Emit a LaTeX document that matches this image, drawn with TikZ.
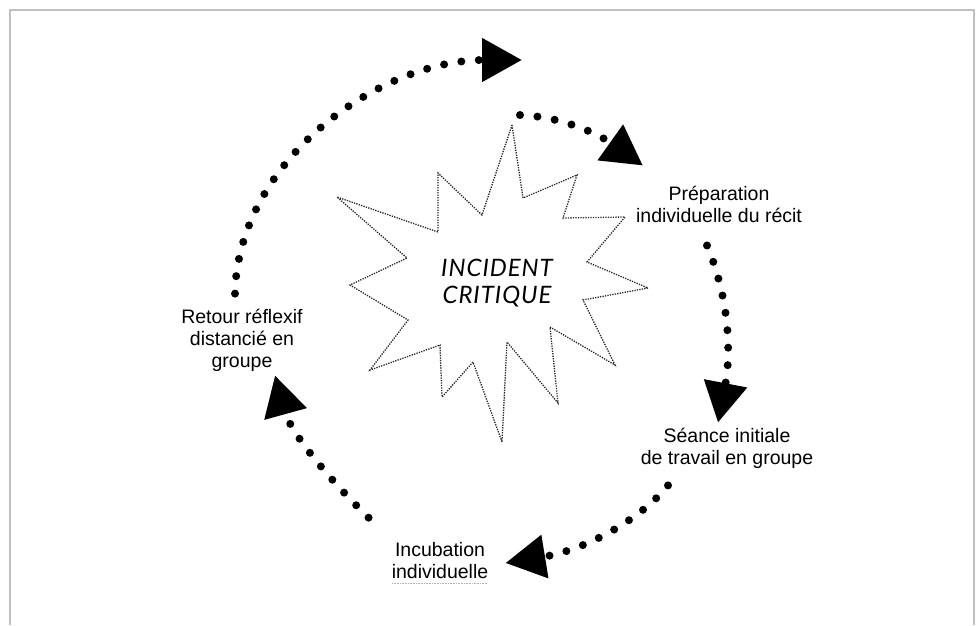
\documentclass[tikz,border=0pt]{standalone}
\usepackage{fontspec}
\setmainfont{Liberation Sans}
\newfontfamily\handfont{Lato}[LetterSpace=4]
\usetikzlibrary{arrows.meta}

\tikzset{
  dotarrow/.style={line width=8pt, line cap=round, dash pattern=on 0pt off 17.5pt,
    -{Triangle[length=40pt,width=42pt]}},
  burst/.style={black!85, line width=1.3pt, dash pattern=on 1.3pt off 1.2pt}
}

\begin{document}
\begin{tikzpicture}[x=1pt, y=-1pt]
      \useasboundingbox (0,0) rectangle (976,625);
      \draw[black!25, line width=2pt] (10,625) -- (10,10) -- (974,10) -- (974,625);
      \draw[burst] (512,125) coordinate (S) -- (523,198) -- (577,175) -- (563,218)
        -- (625,217) -- (587,262) -- (648,288) -- (583,300) -- (615,365)
        -- (550,327) -- (558,403) -- (507,342) -- (502,442) -- (473,362)
        -- (442,397) -- (440,345) -- (370,370) -- (408,320) -- (350,285)
        -- (407,258) -- (337,197) -- (438,232) -- (438,173) -- (482,215) -- cycle;
      \node (IC) [align=center, inner sep=0pt,
        font=\handfont\itshape\fontsize{24}{27}\selectfont] at (497,283) {INCIDENT\\CRITIQUE};
      \begin{scope}[every node/.style={align=center, inner sep=0pt,
          font=\fontsize{19.5}{22}\selectfont}]
        \node (P) at (719,204) {Préparation\\individuelle du récit};
        \node (SI) at (727,448) {Séance initiale\\de travail en groupe};
        \node (IN) at (440,561) {Incubation\\individuelle};
        \node (R) at (242,340) {Retour réflexif\\distancié en\\groupe};
      \end{scope}
      \draw[black!30, line width=0.8pt, dash pattern=on 0.8pt off 0.8pt]
        ([shift={(-48,4)}]IN.south) -- ([shift={(48,4)}]IN.south);
      \coordinate (T) at (522,60);
      \begin{scope}[every path/.style={dotarrow}]
        \draw ([shift={(-7,-15)}]R.north) .. controls (238,160) and (380,60) .. (T);
        \draw ([shift={(8,-10)}]S) .. controls (570,117) and (607,140)
          .. ([shift={(7,-20)}]P.north west);
        \draw ([shift={(-12,23)}]P.south) .. controls (730,300) and (731,355)
          .. ([shift={(-9,-5)}]SI.north);
        \draw ([shift={(-59,17)}]SI.south) .. controls (640,520) and (585,550)
          .. ([shift={(17,2)}]IN.east);
        \draw ([shift={(-23,-25)}]IN.north west) .. controls (322,472) and (290,430)
          .. ([shift={(33,4)}]R.south);
      \end{scope}
\end{tikzpicture}
\end{document}
